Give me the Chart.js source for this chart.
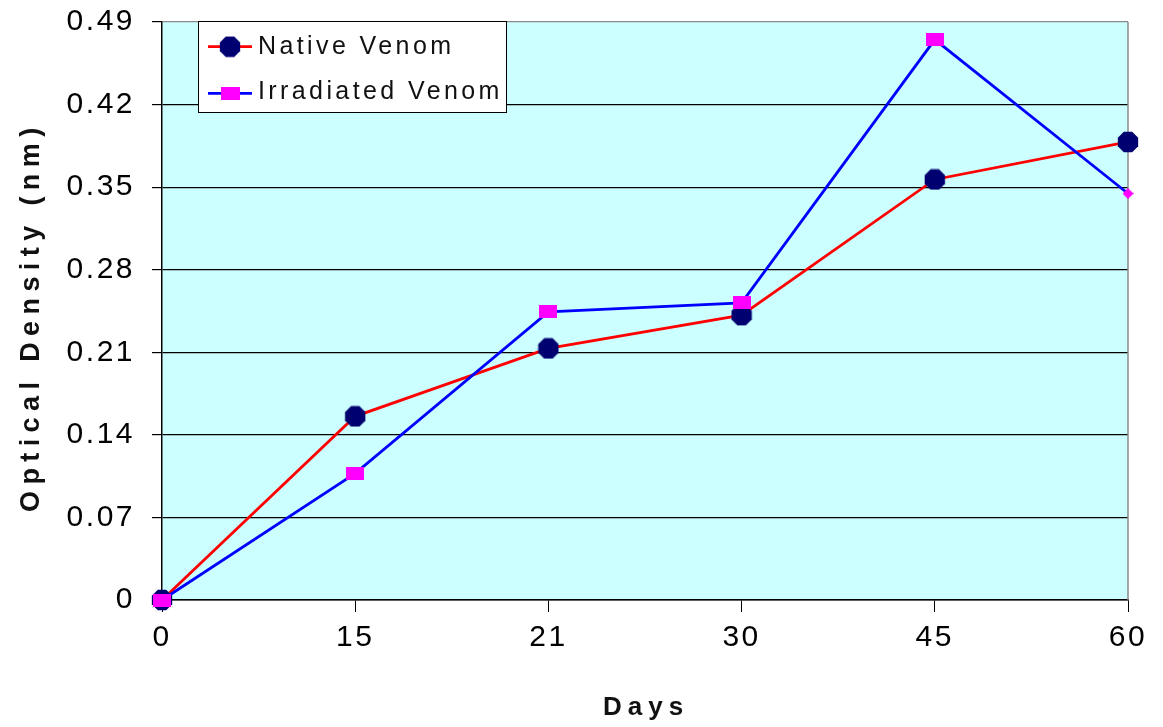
<!DOCTYPE html>
<html><head><meta charset="utf-8">
<script src="https://cdn.jsdelivr.net/npm/chart.js@4"></script>
<style>html,body{margin:0;padding:0;background:#fff;}#wrap{width:1163px;height:727px;}</style>
</head><body><div id="wrap"><canvas id="c" width="1163" height="727"></canvas></div>
<script>
// ---- data ----
const categories = ['0', '15', '21', '30', '45', '60'];
const nativeVenom = [0, 0.1557, 0.2133, 0.2415, 0.3565, 0.3883];
const irradiatedVenom = [0, 0.1073, 0.2443, 0.2519, 0.4751, 0.3446];
const yTickValues = [0, 0.07, 0.14, 0.21, 0.28, 0.35, 0.42, 0.49];
const seriesNames = ['Native Venom', 'Irradiated Venom'];
const xTitle = 'Days';
const yTitle = 'Optical Density (nm)';

const FONT = '"Liberation Sans", Arial, sans-serif';

function octagon(d, color) {
  const c = document.createElement('canvas'); c.width = d; c.height = d;
  const g = c.getContext('2d'); g.fillStyle = color; g.beginPath();
  for (let i = 0; i < 8; i++) {
    const a = Math.PI / 8 + i * Math.PI / 4;
    g.lineTo(d / 2 + d / 2 * Math.cos(a), d / 2 + d / 2 * Math.sin(a));
  }
  g.closePath(); g.fill(); return c;
}
function rectMarker(w, h, color) {
  const c = document.createElement('canvas'); c.width = w; c.height = h;
  const g = c.getContext('2d'); g.fillStyle = color; g.fillRect(0, 0, w, h); return c;
}
function diamond(d, color) {
  const c = document.createElement('canvas'); c.width = d; c.height = d;
  const g = c.getContext('2d'); g.fillStyle = color; g.beginPath();
  g.moveTo(d / 2, 0); g.lineTo(d, d / 2); g.lineTo(d / 2, d); g.lineTo(0, d / 2); g.closePath(); g.fill(); return c;
}
const NAVY = '#000070', MAGENTA = '#FF00FF';
const octo = octagon(22, NAVY);
const sq = rectMarker(18, 13, MAGENTA);
const dia = diamond(11, MAGENTA);
const irrStyles = irradiatedVenom.map((v, i) => i === irradiatedVenom.length - 1 ? dia : sq);

const decoPlugin = {
  id: 'deco',
  beforeDraw(chart) {
    const { ctx, chartArea: a } = chart;
    ctx.save();
    ctx.fillStyle = '#fff'; ctx.fillRect(0, 0, chart.width, chart.height);
    ctx.fillStyle = '#CCFFFF'; ctx.fillRect(a.left, a.top, a.right - a.left, a.bottom - a.top);
    ctx.restore();
    ctx.letterSpacing = '2.5px';
  },
  beforeDatasetsDraw(chart) {
    const { ctx, chartArea: a } = chart;
    ctx.save();
    ctx.strokeStyle = '#8a8a8a'; ctx.lineWidth = 1.5;
    ctx.beginPath(); ctx.moveTo(a.right, a.top); ctx.lineTo(a.right, a.bottom); ctx.stroke();
    ctx.restore();
  },
  afterDraw(chart) {
    const { ctx } = chart;
    ctx.save();
    // axis titles
    ctx.fillStyle = '#111';
    ctx.font = 'bold 26px ' + FONT;
    ctx.letterSpacing = '6px';
    ctx.textAlign = 'left'; ctx.textBaseline = 'alphabetic';
    ctx.fillText(xTitle, 603, 715);
    ctx.save();
    ctx.translate(39, 512); ctx.rotate(-Math.PI / 2);
    ctx.font = 'bold 27px ' + FONT;
    ctx.letterSpacing = '6.4px';
    ctx.fillText(yTitle, 0, 0);
    ctx.restore();
    // legend
    ctx.letterSpacing = '0px';
    ctx.fillStyle = '#fff'; ctx.fillRect(198.5, 21.5, 308, 91);
    ctx.strokeStyle = '#000'; ctx.lineWidth = 1; ctx.strokeRect(198.5, 21.5, 308, 91);
    const rows = [
      { y: 46.7, color: '#FF0000', marker: octo, base: 53.5 },
      { y: 93.3, color: '#0000FF', marker: rectMarker(19, 13, MAGENTA), base: 98.5 }
    ];
    rows.forEach((r, i) => {
      ctx.strokeStyle = r.color; ctx.lineWidth = 2.8;
      ctx.beginPath(); ctx.moveTo(208, r.y); ctx.lineTo(252, r.y); ctx.stroke();
      ctx.drawImage(r.marker, 230 - r.marker.width / 2, r.y - r.marker.height / 2);
      ctx.fillStyle = '#111';
      ctx.font = '25px ' + FONT;
      ctx.letterSpacing = '3.4px';
      ctx.fillText(seriesNames[i], 258, r.base);
      ctx.letterSpacing = '0px';
    });
    ctx.restore();
  }
};

new Chart(document.getElementById('c'), {
  type: 'line',
  data: {
    labels: categories,
    datasets: [
      {
        label: seriesNames[0], data: nativeVenom, borderColor: '#FF0000', backgroundColor: NAVY,
        borderWidth: 2.8, pointStyle: octo, pointRadius: 11, pointHoverRadius: 11,
        tension: 0, clip: false, order: 1
      },
      {
        label: seriesNames[1], data: irradiatedVenom, borderColor: '#0000FF', backgroundColor: MAGENTA,
        borderWidth: 2.8, pointStyle: irrStyles, pointRadius: 9, pointHoverRadius: 9,
        tension: 0, clip: false, order: 0
      }
    ]
  },
  options: {
    responsive: false,
    animation: false,
    devicePixelRatio: 1,
    layout: { padding: { top: 22, right: 35, left: 0, bottom: 0 } },
    plugins: { legend: { display: false }, tooltip: { enabled: false } },
    scales: {
      x: {
        type: 'category', offset: false,
        grid: { display: true, drawOnChartArea: false, drawTicks: true, tickLength: 12, color: '#000', lineWidth: 1 },
        border: { color: '#000', width: 1.5 },
        ticks: { color: '#000', font: { family: FONT, size: 30 }, padding: 8, maxRotation: 0 },
        afterFit(s) { s.height = 127; s.paddingLeft = 0; s.paddingRight = 0; }
      },
      y: {
        type: 'linear', min: 0, max: 0.49,
        afterBuildTicks(s) { s.ticks = yTickValues.map(v => ({ value: v })); },
        grid: {
          color: (c) => (c.tick && c.tick.value >= 0.49 ? '#8a8a8a' : '#000'),
          tickColor: '#000', lineWidth: 1.2, tickLength: 10
        },
        border: { color: '#000', width: 1.5 },
        ticks: {
          color: '#000', font: { family: FONT, size: 30 }, padding: 17,
          callback: (v) => String(+(+v).toFixed(2))
        },
        afterFit(s) { s.width = 162; s.paddingTop = 0; s.paddingBottom = 0; }
      }
    }
  },
  plugins: [decoPlugin]
});
</script>
</body></html>
